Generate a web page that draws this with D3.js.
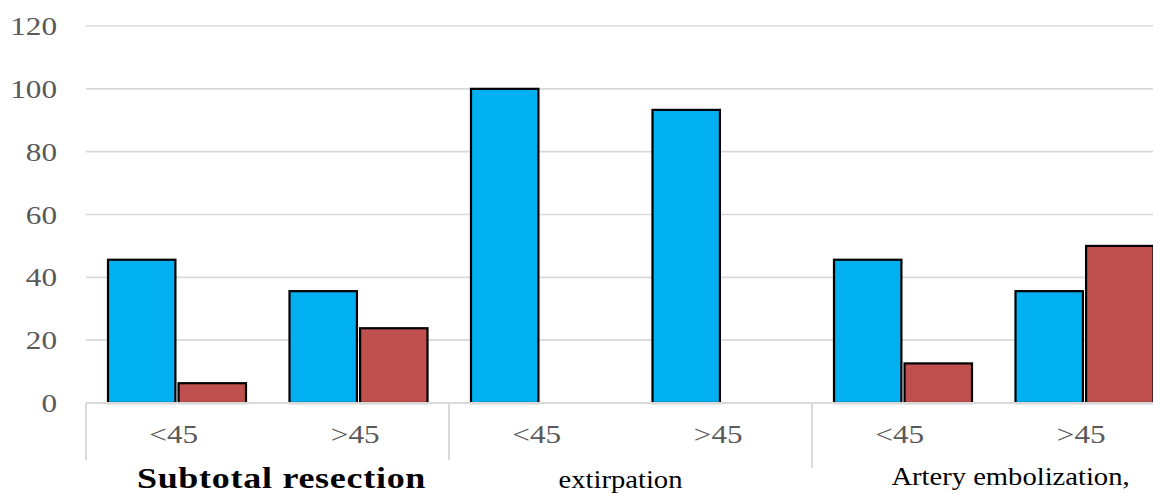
<!DOCTYPE html>
<html>
<head>
<meta charset="utf-8">
<script src="https://cdn.jsdelivr.net/npm/d3@7"></script>
<style>
  html, body { margin: 0; padding: 0; background: #fff; overflow: hidden; }
  svg { display: block; }
  text { font-family: "Liberation Serif", "Times New Roman", serif; }
</style>
</head>
<body>
<svg id="chart" width="1153" height="494"></svg>
<script>
// Age subgroups within each treatment group
const groups = ["Subtotal resection", "extirpation", "Artery embolization,"];
const categories = ["SR <45", "SR >45", "EX <45", "EX >45", "AE <45", "AE >45"];
const categoryTicks = ["<45", ">45", "<45", ">45", "<45", ">45"];

// Two series per category
const seriesKeys = ["s1", "s2"];
const seriesColors = ["#00b0f0", "#c0504d"];
const series1 = [45.6, 35.6, 100, 93.3, 45.6, 35.6];
const series2 = [6.3, 23.8, 0, 0, 12.6, 50];

const yTicks = [0, 20, 40, 60, 80, 100, 120];

(function () {
  const svg = d3.select("#chart");
  const W = 1153;
  const plotLeft = 86, plotRight = 1175, plotTop = 26, plotBottom = 403;

  const x = d3.scaleBand().domain(categories).range([plotLeft, plotRight]).paddingInner(0).paddingOuter(0);
  const step = x.bandwidth();
  const xs = d3.scaleBand().domain(seriesKeys).range([22, step - 21.5]).paddingInner(0.045).paddingOuter(0);
  const y = d3.scaleLinear().domain([0, 120]).range([plotBottom, plotTop]);

  // Horizontal gridlines
  svg.append("g")
    .selectAll("line")
    .data(yTicks.filter(d => d > 0))
    .join("line")
    .attr("x1", plotLeft).attr("x2", W)
    .attr("y1", d => y(d)).attr("y2", d => y(d))
    .attr("stroke", "#d9d9d9").attr("stroke-width", 1.6);

  // Y-axis labels, horizontally stretched serif digits
  const yLab = svg.append("g");
  yTicks.forEach(t => {
    yLab.append("text")
      .attr("transform", `translate(57,${y(t) + 9}) scale(1.2,1)`)
      .attr("text-anchor", "end")
      .attr("font-size", 26)
      .attr("fill", "#595959")
      .text(t);
  });

  // Bars
  const rows = categories.map((c, i) => ({ c, vals: [series1[i], series2[i]] }));
  const barG = svg.append("g");
  rows.forEach(r => {
    r.vals.forEach((v, k) => {
      if (v <= 0) return;
      barG.append("rect")
        .attr("x", x(r.c) + xs(seriesKeys[k]))
        .attr("y", y(v))
        .attr("width", xs.bandwidth())
        .attr("height", y(0) - y(v))
        .attr("fill", seriesColors[k])
        .attr("stroke", "#000")
        .attr("stroke-width", 2.2);
    });
  });

  // X axis baseline
  svg.append("line")
    .attr("x1", plotLeft).attr("x2", W)
    .attr("y1", plotBottom).attr("y2", plotBottom)
    .attr("stroke", "#d9d9d9").attr("stroke-width", 2);

  // Group separators
  const sepLen = [57, 57, 65];
  groups.forEach((g, gi) => {
    const xx = x(categories[gi * 2]);
    svg.append("line")
      .attr("x1", xx).attr("x2", xx)
      .attr("y1", plotBottom).attr("y2", plotBottom + sepLen[gi])
      .attr("stroke", "#d9d9d9").attr("stroke-width", 2);
  });

  // Age tick labels
  categories.forEach((c, i) => {
    svg.append("text")
      .attr("transform", `translate(${x(c) + step / 2 - 3},443) scale(1.2,1)`)
      .attr("text-anchor", "middle")
      .attr("font-size", 26)
      .attr("fill", "#595959")
      .text(categoryTicks[i]);
  });

  // Treatment group labels
  const groupLabelStyle = [
    { dx: 14, y: 488, size: 30, weight: "bold", sx: 1.2, ls: 0.6 },
    { dx: -10, y: 488, size: 26, weight: "normal", sx: 1.1, ls: 0 },
    { dx: 17, y: 485, size: 26, weight: "normal", sx: 1.1, ls: 0 }
  ];
  groups.forEach((g, gi) => {
    const cx = x(categories[gi * 2]) + step;
    const st = groupLabelStyle[gi];
    svg.append("text")
      .attr("transform", `translate(${cx + st.dx},${st.y}) scale(${st.sx},1)`)
      .attr("text-anchor", "middle")
      .attr("font-size", st.size)
      .attr("font-weight", st.weight)
      .attr("letter-spacing", st.ls)
      .attr("fill", "#000")
      .text(g);
  });
})();
</script>
</body>
</html>
